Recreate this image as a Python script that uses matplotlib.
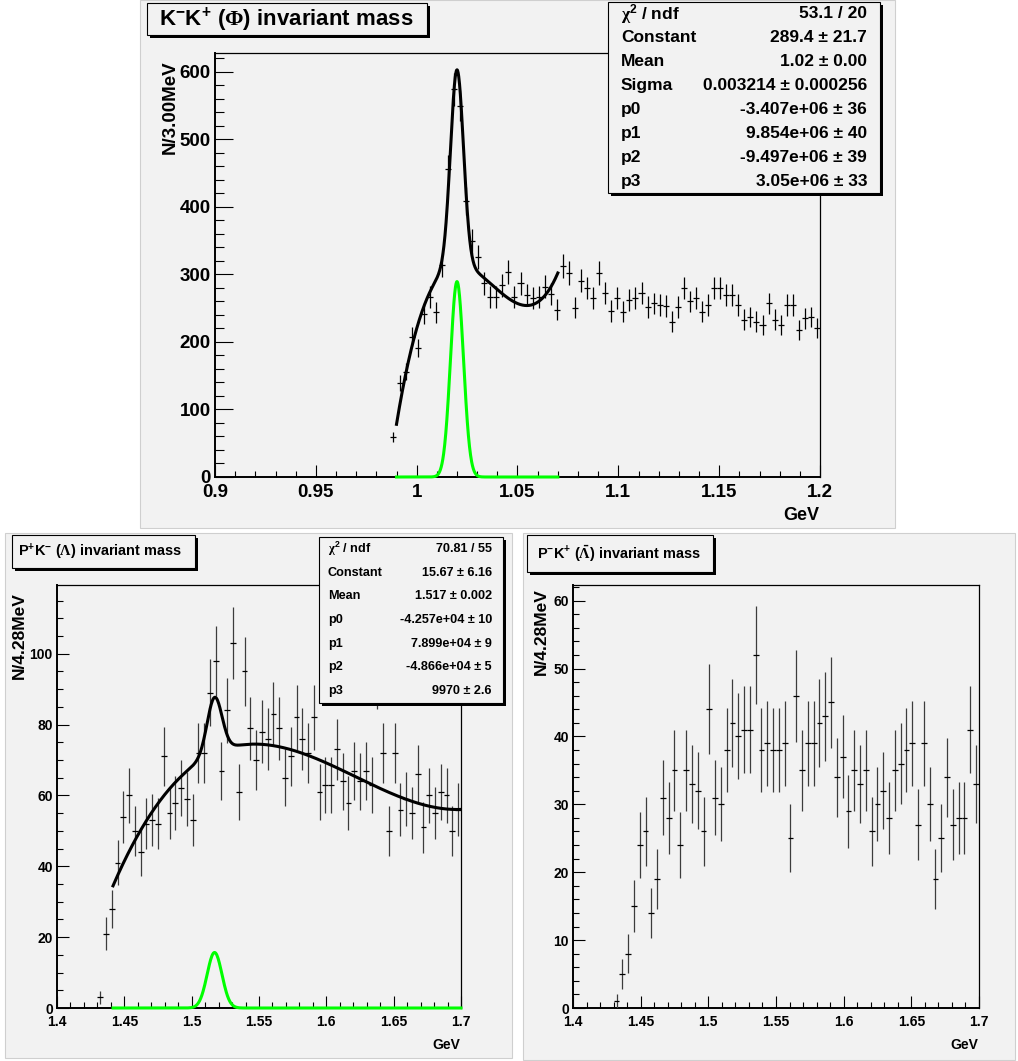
import numpy as np
import matplotlib
matplotlib.use("Agg")
import matplotlib.pyplot as plt
from matplotlib.patches import Rectangle
from matplotlib import font_manager
from numpy.polynomial import Polynomial

# canvas in pixels, saved at dpi=100
W, H = 1018, 1061
PAD_BG = "#f2f2f2"

# ---------------- K-K+ (phi): 100 bins of 3 MeV, 0.9 - 1.2 GeV ----------------
phi_range = (0.9, 1.2)
phi_nbins = 100
phi_first = 29          # first filled bin
phi_counts = [59, 139, 156, 208, 191, 242, 267, 244, 314, 456,
              574, 550, 409, 349, 326, 287, 267, 267, 284, 304,
              267, 287, 270, 265, 267, 282, 271, 248, 312, 302,
              251, 291, 280, 265, 302, 272, 246, 265, 245, 262,
              265, 272, 252, 257, 255, 253, 230, 252, 280, 260,
              265, 245, 255, 280, 280, 270, 270, 255, 233, 237,
              230, 225, 257, 233, 225, 255, 255, 218, 235, 237, 220]
phi_gaus = (289.4, 1.02, 0.003214)     # Constant, Mean, Sigma
phi_fit_range = (0.99, 1.07)
# background part of the black fit line
phi_bg_x = [0.9904, 0.9951, 1.0, 1.005, 1.0099, 1.02, 1.0314, 1.0397, 1.0479, 1.0546, 1.0612, 1.0691]
phi_bg_y = [88, 154, 223, 265, 290, 314, 301, 277, 260, 254, 262, 296]
phi_stat_names = [r"$\mathsf{\chi}^{2}$ / ndf", "Constant", "Mean", "Sigma", "p0", "p1", "p2", "p3"]
phi_stat_vals = ["53.1 / 20", "289.4 ± 21.7", "1.02 ± 0.00", "0.003214 ± 0.000256",
                 "-3.407e+06 ± 36", "9.854e+06 ± 40", "-9.497e+06 ± 39", "3.05e+06 ± 33"]

# ---------------- P+K- (Lambda): 70 bins, 1.4 - 1.7 GeV ----------------
lam_range = (1.4, 1.7)
lam_nbins = 70
lam_first = 7
lam_counts = [3, 21, 28, 41, 54, 60, 50, 44, 52, 53,
              52, 71, 55, 58, 62, 59, 53, 72, 72, 89,
              98, 67, 84, 103, 61, 95, 79, 70, 78, 76,
              83, 79, 65, 71, 82, 76, 72, 82, 61, 63,
              63, 73, 64, 58, 67, 64, 67, 63, 94, 72,
              50, 72, 56, 59, 55, 66, 51, 60, 55, 61,
              60, 50, 56]
lam_gaus = (15.67, 1.517, 0.0055)
lam_fit_range = (1.4416, 1.7)
lam_bg_x = [1.4416, 1.4564, 1.4737, 1.4861, 1.4985, 1.517, 1.5331, 1.5579, 1.5851,
            1.6099, 1.6347, 1.6594, 1.6841, 1.699]
lam_bg_y = [34.8, 45.6, 57.8, 62.5, 67.6, 71.7, 74.1, 74.6, 71.5, 67.2, 63.0, 58.8, 56.4, 56.1]
lam_stat_names = [r"$\mathsf{\chi}^{2}$ / ndf", "Constant", "Mean", "p0", "p1", "p2", "p3"]
lam_stat_vals = ["70.81 / 55", "15.67 ± 6.16", "1.517 ± 0.002", "-4.257e+04 ± 10",
                 "7.899e+04 ± 9", "-4.866e+04 ± 5", "9970 ± 2.6"]

# ---------------- P-K+ (anti-Lambda): 70 bins, 1.4 - 1.7 GeV ----------------
alam_first = 7
alam_counts = [1, 5, 8, 15, 24, 26, 14, 19, 31, 28,
               35, 24, 35, 33, 32, 26, 44, 31, 30, 38,
               42, 40, 41, 41, 52, 38, 39, 38, 38, 39,
               25, 46, 35, 39, 39, 42, 43, 45, 34, 37,
               29, 35, 33, 35, 26, 30, 32, 28, 35, 36,
               38, 39, 27, 39, 30, 19, 25, 34, 27, 28,
               28, 41, 33]

# fonts: the lower panels use a narrow face when one is installed
names = {f.name for f in font_manager.fontManager.ttflist}
if "Liberation Sans Narrow" in names:
    NARROW, NS = "Liberation Sans Narrow", 1.15
else:
    NARROW, NS = "Liberation Sans", 0.95
MAIN = ["Liberation Sans", "DejaVu Sans"]
NARROW_F = [NARROW, "Liberation Sans", "DejaVu Sans"]

plt.rcParams["font.family"] = MAIN
plt.rcParams["font.weight"] = "bold"
plt.rcParams["mathtext.fontset"] = "custom"
plt.rcParams["mathtext.rm"] = "Liberation Sans:bold"
plt.rcParams["mathtext.it"] = "Liberation Sans:bold:italic"
plt.rcParams["mathtext.bf"] = "Liberation Sans:bold"
plt.rcParams["mathtext.sf"] = "Liberation Serif"

fig = plt.figure(figsize=(W / 100, H / 100), dpi=100)
fig.patch.set_facecolor("white")


def fig_rect(x0, y0, x1, y1, **kw):
    r = Rectangle((x0 / W, 1 - y1 / H), (x1 - x0) / W, (y1 - y0) / H,
                  transform=fig.transFigure, **kw)
    fig.add_artist(r)


def shadow_box(x0, y0, x1, y1, off=3):
    fig_rect(x0 + off, y0 + off, x1 + off, y1 + off, facecolor="black", edgecolor="none", zorder=5)
    fig_rect(x0, y0, x1, y1, facecolor=PAD_BG, edgecolor="black", lw=0.8, zorder=6)


def ftext(x, y, s, **kw):
    fig.text(x / W, 1 - y / H, s, zorder=7, **kw)


def hist_axes(frame, xlim, ylim, xstep, xminor, ystep, yminor, ylen, fs, fam):
    x0, y0, x1, y1 = frame
    ax = fig.add_axes([x0 / W, 1 - y1 / H, (x1 - x0) / W, (y1 - y0) / H])
    ax.set_facecolor(PAD_BG)
    ax.set_xlim(*xlim)
    ax.set_ylim(*ylim)
    xt = np.round(np.arange(xlim[0], xlim[1] + 1e-9, xstep), 4)
    yt = np.round(np.arange(0, ylim[1], ystep), 4)
    ax.set_xticks(xt, [f"{v:g}" for v in xt], fontsize=fs, family=fam, fontweight="bold")
    ax.set_yticks(yt, [f"{v:g}" for v in yt], fontsize=fs, family=fam, fontweight="bold")
    ax.set_xticks(np.arange(xlim[0], xlim[1] + 1e-9, xminor), minor=True)
    ax.set_yticks(np.arange(0, ylim[1], yminor), minor=True)
    ax.tick_params(which="both", direction="in", color="black", width=0.8)
    ax.tick_params(axis="x", which="major", length=8.6, pad=5)
    ax.tick_params(axis="x", which="minor", length=4.3)
    ax.tick_params(axis="y", which="major", length=ylen, pad=3)
    ax.tick_params(axis="y", which="minor", length=ylen / 2)
    for side in ("top", "right"):
        ax.spines[side].set_linewidth(0.9)
    for side in ("left", "bottom"):
        ax.spines[side].set_linewidth(1.4)
    return ax


def draw_hist(ax, rng, nbins, first, counts, vcolor="black"):
    width = (rng[1] - rng[0]) / nbins
    idx = first + np.arange(len(counts))
    centers = rng[0] + (idx + 0.5) * width
    c = np.asarray(counts, float)
    ax.errorbar(centers, c, yerr=np.sqrt(c), fmt="none",
                ecolor=vcolor, elinewidth=0.9, capsize=0, zorder=3)
    ax.errorbar(centers, c, xerr=width / 2, fmt="none",
                ecolor="black", elinewidth=0.9, capsize=0, zorder=3)


def draw_fit(ax, gaus, rng, bg_x, bg_y):
    amp, mean, sigma = gaus
    x = np.linspace(rng[0], rng[1], 600)
    g = amp * np.exp(-0.5 * ((x - mean) / sigma) ** 2)
    bg = Polynomial.fit(bg_x, bg_y, 3)(x)
    ax.plot(x, bg + g, color="black", lw=2.2, zorder=4)
    ax.plot(x, g, color="#00ff00", lw=2.2, zorder=4, clip_on=False)


def stats_box(box, labels, values, fs, fam, lx, rx):
    x0, y0, x1, y1 = box
    shadow_box(x0, y0, x1, y1)
    rowh = (y1 - y0) / len(labels)
    for k, (lab, val) in enumerate(zip(labels, values)):
        yc = y0 + (k + 0.5) * rowh
        ftext(lx, yc, lab, fontsize=fs, family=fam, fontweight="bold", ha="left", va="center")
        ftext(rx, yc, val, fontsize=fs, family=fam, fontweight="bold", ha="right", va="center")


# pads
fig_rect(140, 0, 895, 528, facecolor=PAD_BG, edgecolor="#cfcfcf", lw=0.8, zorder=-5)
fig_rect(5, 533, 512, 1058, facecolor=PAD_BG, edgecolor="#cfcfcf", lw=0.8, zorder=-5)
fig_rect(523, 533, 1015, 1060, facecolor=PAD_BG, edgecolor="#cfcfcf", lw=0.8, zorder=-5)

# ---- top: phi ----
ax1 = hist_axes((215, 53, 820, 477), phi_range, (0, 628), 0.05, 0.01, 100, 20, 13, 13.5, MAIN)
draw_hist(ax1, phi_range, phi_nbins, phi_first, phi_counts)
draw_fit(ax1, phi_gaus, phi_fit_range, phi_bg_x, phi_bg_y)
ftext(170, 60, "N/3.00MeV", fontsize=13.5, fontweight="bold", rotation=90, ha="center", va="top")
ftext(819, 515, "GeV", fontsize=13, fontweight="bold", ha="right", va="center")
shadow_box(147, 3, 427, 35)
ftext(159, 20, r"K$^{-}$K$^{+}$ ($\mathsf{\Phi}$) invariant mass", fontsize=16,
      fontweight="bold", ha="left", va="center")
stats_box((608, 2, 880, 193), phi_stat_names, phi_stat_vals, 12.5, MAIN, 621, 867)

# ---- bottom left: Lambda ----
ax2 = hist_axes((57, 585, 461, 1008), lam_range, (0, 119.4), 0.05, 0.01, 20, 5, 8.6, 10.5 * NS, NARROW_F)
draw_hist(ax2, lam_range, lam_nbins, lam_first, lam_counts, vcolor="#3c3c3c")
draw_fit(ax2, lam_gaus, lam_fit_range, lam_bg_x, lam_bg_y)
ftext(19, 592, "N/4.28MeV", fontsize=12.5, fontweight="bold", rotation=90, ha="center", va="top")
ftext(460, 1045, "GeV", fontsize=10.5 * NS, family=NARROW_F, fontweight="bold", ha="right", va="center")
shadow_box(12, 535, 195, 568)
ftext(18, 552, r"P$^{+}$K$^{-}$ ($\mathsf{\Lambda}$) invariant mass", fontsize=11 * NS,
      family=NARROW_F, fontweight="bold", ha="left", va="center")
stats_box((319, 537, 503, 703), lam_stat_names, lam_stat_vals, 9.6 * NS, NARROW_F, 328, 492)

# ---- bottom right: anti-Lambda ----
ax3 = hist_axes((573, 585, 979, 1008), lam_range, (0, 62.3), 0.05, 0.01, 10, 2, 8.6, 10.5 * NS, NARROW_F)
draw_hist(ax3, lam_range, lam_nbins, alam_first, alam_counts, vcolor="#3c3c3c")
ftext(541, 588, "N/4.28MeV", fontsize=12.5, fontweight="bold", rotation=90, ha="center", va="top")
ftext(978, 1045, "GeV", fontsize=10.5 * NS, family=NARROW_F, fontweight="bold", ha="right", va="center")
shadow_box(527, 535, 713, 572)
ftext(537, 554, r"P$^{-}$K$^{+}$ ($\bar{\mathsf{\Lambda}}$) invariant mass", fontsize=11 * NS,
      family=NARROW_F, fontweight="bold", ha="left", va="center")

fig.savefig("out.png", dpi=100)
